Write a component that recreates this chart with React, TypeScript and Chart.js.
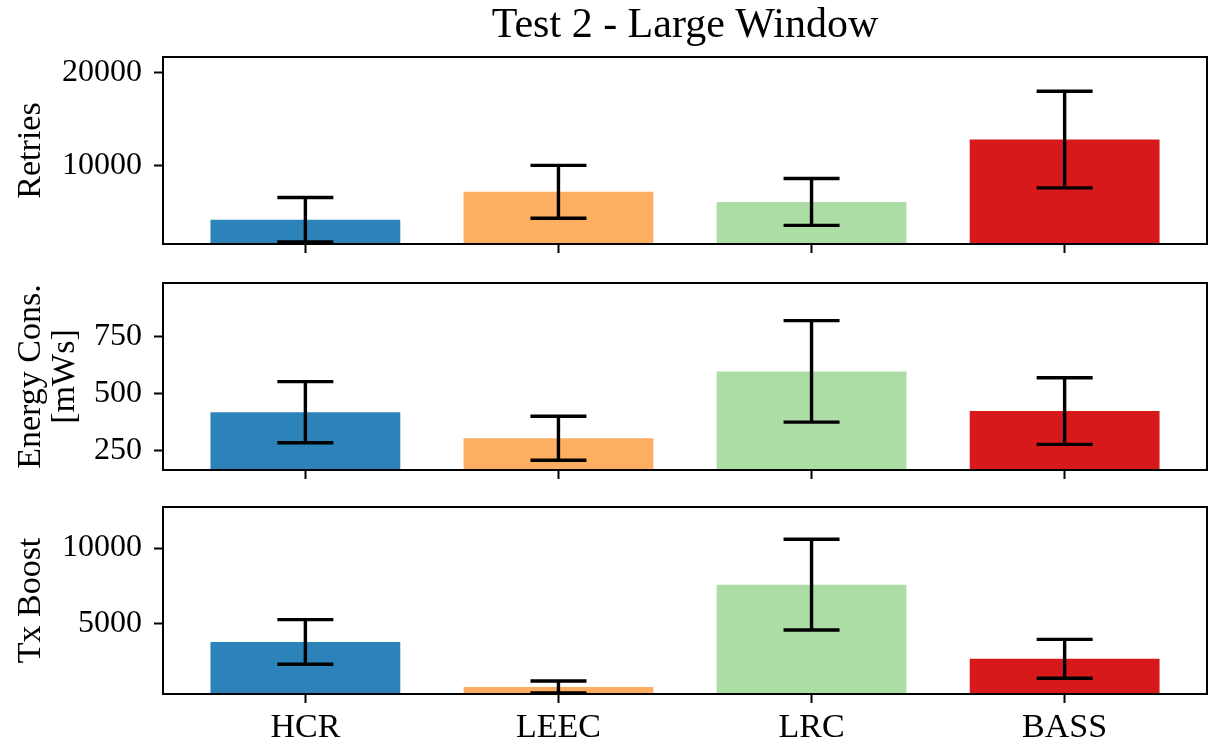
import React, { useEffect, useRef } from 'react';
import { Chart, registerables } from 'chart.js';

Chart.register(...registerables);

// Categories and per-panel statistics (mean and standard deviation)
const categories = ['HCR', 'LEEC', 'LRC', 'BASS'];
const barColors = ['#2b83ba', '#fdae61', '#abdda4', '#d7191c'];

const retriesMean = [4130, 7150, 6050, 12800];
const retriesErr = [2400, 2860, 2540, 5230];
const retriesTicks = [10000, 20000];

const energyMean = [418, 303, 598, 423];
const energyErr = [135, 97, 224, 147];
const energyTicks = [250, 500, 750];

const txMean = [3770, 780, 7570, 2650];
const txErr = [1480, 400, 3010, 1290];
const txTicks = [5000, 10000];

const W = 1209;
const H = 742;
const FONT = "'Liberation Serif', 'Times New Roman', serif";
const TICK_SIZE = 32;
const LABEL_SIZE = 34;

type Panel = {
  key: string;
  yTitle: string | string[];
  mean: number[];
  err: number[];
  ticks: number[];
  yMin: number;
  yMax: number;
  areaTop: number;
  areaBottom: number;
  showLabels: boolean;
  title?: string;
};

const panels: Panel[] = [
  {
    key: 'retries',
    yTitle: 'Retries',
    mean: retriesMean,
    err: retriesErr,
    ticks: retriesTicks,
    yMin: 1500,
    yMax: 21730,
    areaTop: 57,
    areaBottom: 244,
    showLabels: false,
    title: 'Test 2 - Large Window',
  },
  {
    key: 'energy',
    yTitle: ['Energy Cons.', '[mWs]'],
    mean: energyMean,
    err: energyErr,
    ticks: energyTicks,
    yMin: 163,
    yMax: 988,
    areaTop: 283,
    areaBottom: 470,
    showLabels: false,
  },
  {
    key: 'tx',
    yTitle: 'Tx Boost',
    mean: txMean,
    err: txErr,
    ticks: txTicks,
    yMin: 318,
    yMax: 12720,
    areaTop: 507,
    areaBottom: 694,
    showLabels: true,
  },
];

// Draws the error bars (through the chart's scales) and the full axes frame.
function makeDecorations(mean: number[], err: number[]) {
  return {
    id: 'errorBarsAndFrame',
    afterDatasetsDraw(chart: any) {
      const { ctx, chartArea, scales } = chart;
      const xs = scales.x;
      const ys = scales.y;
      ctx.save();
      ctx.beginPath();
      ctx.rect(chartArea.left, chartArea.top, chartArea.right - chartArea.left, chartArea.bottom - chartArea.top);
      ctx.clip();
      ctx.strokeStyle = '#000';
      ctx.lineWidth = 3.4;
      const cap = 28;
      mean.forEach((m, i) => {
        const x = xs.getPixelForValue(i);
        const yHi = ys.getPixelForValue(m + err[i]);
        const yLo = ys.getPixelForValue(m - err[i]);
        ctx.beginPath();
        ctx.moveTo(x, yHi);
        ctx.lineTo(x, yLo);
        ctx.moveTo(x - cap, yHi);
        ctx.lineTo(x + cap, yHi);
        ctx.moveTo(x - cap, yLo);
        ctx.lineTo(x + cap, yLo);
        ctx.stroke();
      });
      ctx.restore();
    },
    afterDraw(chart: any) {
      const { ctx, chartArea } = chart;
      ctx.save();
      ctx.strokeStyle = '#000';
      ctx.lineWidth = 2;
      ctx.strokeRect(chartArea.left, chartArea.top, chartArea.right - chartArea.left, chartArea.bottom - chartArea.top);
      ctx.restore();
    },
  };
}

function PanelChart({ panel }: { panel: Panel }) {
  const ref = useRef<HTMLCanvasElement>(null);

  useEffect(() => {
    if (!ref.current) return;
    const xHeight = panel.showLabels ? H - panel.areaBottom : 9;
    const chart = new Chart(ref.current, {
      type: 'bar',
      data: {
        datasets: [
          {
            data: panel.mean.map((v, i) => ({ x: i, y: v })),
            backgroundColor: barColors,
            borderWidth: 0,
            barPercentage: 0.75,
            categoryPercentage: 1,
          },
        ],
      },
      options: {
        responsive: false,
        animation: false,
        devicePixelRatio: 1,
        layout: {
          padding: {
            left: 0,
            right: 2,
            top: panel.title ? 0 : panel.areaTop,
            bottom: H - panel.areaBottom - xHeight,
          },
        },
        plugins: {
          legend: { display: false },
          tooltip: { enabled: false },
          title: {
            display: !!panel.title,
            text: panel.title || '',
            fullSize: false,
            color: '#000',
            font: { family: FONT, size: 42, weight: 'normal', lineHeight: 1.2 },
            padding: { top: 1, bottom: 5.6 },
          },
        },
        scales: {
          x: {
            type: 'linear',
            min: -0.5625,
            max: 3.5625,
            offset: false,
            afterBuildTicks: (scale: any) => {
              scale.ticks = categories.map((_, i) => ({ value: i }));
            },
            afterFit: (scale: any) => {
              scale.height = xHeight;
            },
            ticks: {
              display: panel.showLabels,
              autoSkip: false,
              maxRotation: 0,
              padding: 8,
              color: '#000',
              font: { family: FONT, size: LABEL_SIZE, lineHeight: 1 },
              callback: (_v: any, i: number) => categories[i],
            },
            grid: {
              display: true,
              offset: false,
              drawOnChartArea: false,
              drawTicks: true,
              tickLength: 9,
              tickWidth: 2,
              tickColor: '#000',
              color: '#000',
            },
            border: { display: false },
          },
          y: {
            type: 'linear',
            min: panel.yMin,
            max: panel.yMax,
            afterBuildTicks: (scale: any) => {
              scale.ticks = panel.ticks.map((v) => ({ value: v }));
            },
            afterFit: (scale: any) => {
              scale.width = 163;
            },
            ticks: {
              padding: 12,
              color: '#000',
              font: { family: FONT, size: TICK_SIZE, lineHeight: 1 },
              callback: (v: any) => String(v),
            },
            grid: {
              display: true,
              offset: false,
              drawOnChartArea: false,
              drawTicks: true,
              tickLength: 9,
              tickWidth: 2,
              tickColor: '#000',
              color: '#000',
            },
            border: { display: false },
            title: {
              display: true,
              text: panel.yTitle,
              color: '#000',
              font: { family: FONT, size: LABEL_SIZE, lineHeight: 1.0 },
              padding: { top: 14, bottom: 0 },
            },
          },
        },
      } as any,
      plugins: [makeDecorations(panel.mean, panel.err)],
    });
    return () => chart.destroy();
  }, [panel]);

  return (
    <canvas
      ref={ref}
      width={W}
      height={H}
      style={{ position: 'absolute', left: 0, top: 0, width: W, height: H }}
    />
  );
}

export default function App() {
  return (
    <div
      style={{
        position: 'absolute',
        left: 0,
        top: 0,
        width: W,
        height: H,
        background: '#fff',
        overflow: 'hidden',
      }}
    >
      {panels.map((p) => (
        <PanelChart key={p.key} panel={p} />
      ))}
    </div>
  );
}
